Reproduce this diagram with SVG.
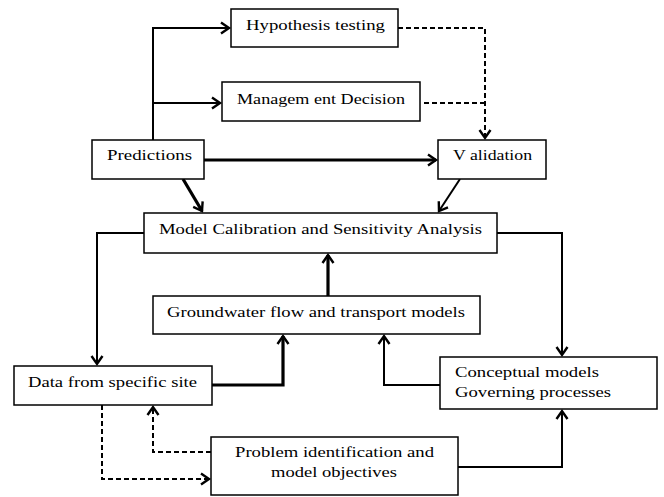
<svg xmlns="http://www.w3.org/2000/svg" width="664" height="497" viewBox="0 0 664 497">
<defs>
<marker id="ah" markerUnits="userSpaceOnUse" markerWidth="14" markerHeight="14" refX="11" refY="7" orient="auto" overflow="visible">
<polyline points="3,1.5 11,7 3,12.5" fill="none" stroke="#000" stroke-width="2.4"/>
</marker>
</defs>
<style>
.box{fill:#fff;stroke:#000;stroke-width:1.5}
.t{font-family:"Liberation Serif","DejaVu Serif",serif;font-size:14px;fill:#000}
.c{fill:none;stroke:#000;stroke-width:2}
.k{fill:none;stroke:#000;stroke-width:3.2}
.d{fill:none;stroke:#000;stroke-width:2;stroke-dasharray:5,3}
</style>
<rect width="664" height="497" fill="#fff"/>
<g id="connectors">
<path class="c" d="M153,140 V28 H229" marker-end="url(#ah)"/>
<path class="c" d="M153,103 H220" marker-end="url(#ah)"/>
<path class="k" d="M204,160 H436" marker-end="url(#ah)"/>
<path class="k" d="M183,179 L202,211" marker-end="url(#ah)"/>
<path class="d" d="M398,28 H485 V138" marker-end="url(#ah)"/>
<path class="d" d="M424,103 H485"/>
<path class="c" d="M460,179 L439,211" marker-end="url(#ah)"/>
<path class="c" d="M497,233 H562 V355" marker-end="url(#ah)"/>
<path class="c" d="M144,233 H97 V364" marker-end="url(#ah)"/>
<path class="k" d="M328,296 V255" marker-end="url(#ah)"/>
<path class="k" d="M212,385 H283 V336" marker-end="url(#ah)"/>
<path class="c" d="M440,385 H384 V336" marker-end="url(#ah)"/>
<path class="c" d="M458,467 H562 V411" marker-end="url(#ah)"/>
<path class="d" d="M211,452 H153 V407" marker-end="url(#ah)"/>
<path class="d" d="M102,405 V479 H209" marker-end="url(#ah)"/>
</g>
<g id="hypothesis">
<rect class="box" x="231" y="9" width="167" height="38"/>
<text class="t" x="246" y="30" textLength="139" lengthAdjust="spacingAndGlyphs">Hypothesis testing</text>
</g>
<g id="management">
<rect class="box" x="222" y="82" width="198" height="39"/>
<text class="t" x="237" y="104" textLength="168" lengthAdjust="spacingAndGlyphs">Managem ent Decision</text>
</g>
<g id="predictions">
<rect class="box" x="92" y="140" width="112" height="39"/>
<text class="t" x="107" y="160" textLength="85" lengthAdjust="spacingAndGlyphs">Predictions</text>
</g>
<g id="validation">
<rect class="box" x="438" y="140" width="108" height="39"/>
<text class="t" x="453" y="160" textLength="79" lengthAdjust="spacingAndGlyphs">V alidation</text>
</g>
<g id="calibration">
<rect class="box" x="144" y="213" width="353" height="40"/>
<text class="t" x="159" y="234" textLength="323" lengthAdjust="spacingAndGlyphs">Model Calibration and Sensitivity Analysis</text>
</g>
<g id="groundwater">
<rect class="box" x="153" y="296" width="327" height="38"/>
<text class="t" x="167" y="317" textLength="298" lengthAdjust="spacingAndGlyphs">Groundwater flow and transport models</text>
</g>
<g id="data">
<rect class="box" x="14" y="366" width="198" height="39"/>
<text class="t" x="28" y="387" textLength="169" lengthAdjust="spacingAndGlyphs">Data from specific site</text>
</g>
<g id="conceptual">
<rect class="box" x="440" y="357" width="217" height="52"/>
<text class="t" x="455" y="377" textLength="144" lengthAdjust="spacingAndGlyphs">Conceptual models</text>
<text class="t" x="455" y="397" textLength="156" lengthAdjust="spacingAndGlyphs">Governing processes</text>
</g>
<g id="problem">
<rect class="box" x="211" y="437" width="247" height="58"/>
<text class="t" x="235" y="457" textLength="199" lengthAdjust="spacingAndGlyphs">Problem identification and</text>
<text class="t" x="271" y="477" textLength="126" lengthAdjust="spacingAndGlyphs">model objectives</text>
</g>
</svg>
